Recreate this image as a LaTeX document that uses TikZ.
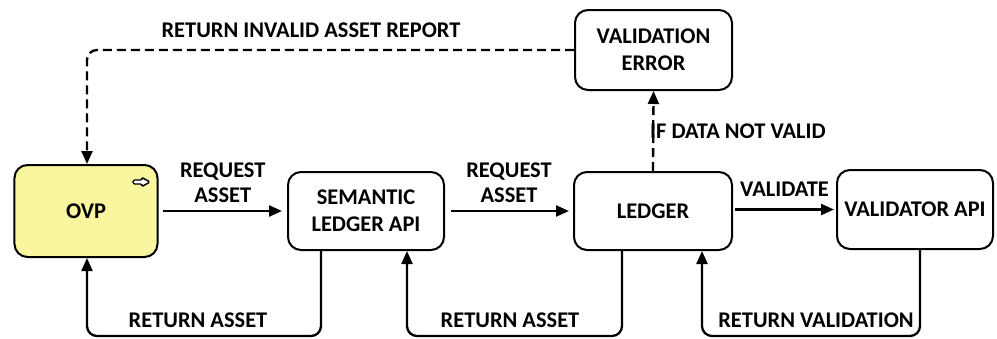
\documentclass[tikz,border=0pt]{standalone}
\usepackage{fontspec}
\setmainfont{Carlito}
\usetikzlibrary{arrows.meta,positioning}

\definecolor{ovpyellow}{RGB}{250,246,160}

\begin{document}
\begin{tikzpicture}[x=1bp,y=-1bp,
    box/.style={draw,line width=2bp,rounded corners=13bp,align=center,
      font=\fontsize{22.5}{27}\bfseries\selectfont,inner sep=0pt},
    flow/.style={line width=2.3bp,-{Triangle[length=13bp,width=11bp]}},
    back/.style={flow,dash pattern=on 9bp off 5bp},
    lbl/.style={font=\fontsize{22.5}{25}\bfseries\selectfont,align=center,inner sep=1pt}
  ]
  \useasboundingbox (0,0) rectangle (997,338);

  % the boxes
  \node[box,fill=ovpyellow,minimum width=143bp,minimum height=92bp] (ovp) at (86,211) {OVP};
  \node[box,minimum width=156bp,minimum height=78bp] (api) at (366,211) {SEMANTIC\\LEDGER API};
  \node[box,minimum width=158bp,minimum height=78bp] (ledger) at (653,211) {LEDGER};
  \node[box,minimum width=156bp,minimum height=79bp] (valapi) at (915,209.5) {VALIDATOR API};
  \node[box,minimum width=157bp,minimum height=80bp] (valerr) at (653.5,50) {VALIDATION\\ERROR};

  % little arrow in the corner of ovp
  \draw[line width=1.4bp,fill=white,rounded corners=1.5bp]
    (133,180) -- (142,180) -- (142,177.5) -- (150,182) -- (142,186.5) -- (142,184) -- (133,184) -- cycle;

  % requests
  \draw[flow,shorten <=4bp,shorten >=5bp] (ovp.east |- api) -- node[lbl,above=6bp] {REQUEST\\ASSET} (api.west);
  \draw[flow,shorten <=6bp,shorten >=4bp] (api.east) -- node[lbl,above=6bp] {REQUEST\\ASSET} (ledger.west);
  \draw[flow,shorten <=2bp,shorten >=2bp] (ledger.east |- valapi) -- node[lbl,above=11bp] {VALIDATE} (valapi.west);

  % returns along the bottom
  \draw[flow,rounded corners=10bp] ([xshift=-45bp]api.south) -- ++(0,85) -| ([xshift=1bp]ovp.south);
  \draw[flow,rounded corners=10bp] ([xshift=-31bp]ledger.south) -- ++(0,85) -| ([xshift=41bp]api.south);
  \draw[flow,rounded corners=10bp] ([xshift=5bp]valapi.south) -- ++(0,86) -| ([xshift=49bp]ledger.south);
  \node[lbl] (retovp) at (198,320) {RETURN ASSET};
  \node[lbl] (retapi) at (510,320) {RETURN ASSET};
  \node[lbl] (retledger) at (816,320) {RETURN VALIDATION};

  % error path (dashed)
  \draw[back] (ledger.north) -- (valerr.south);
  \node[lbl,anchor=west] (notvalid) at (649,131) {IF DATA NOT VALID};
  \draw[back,rounded corners=10bp] (valerr.west) -| ([xshift=1bp]ovp.north);
  \node[lbl] (report) at (311,30) {RETURN INVALID ASSET REPORT};
\end{tikzpicture}
\end{document}
